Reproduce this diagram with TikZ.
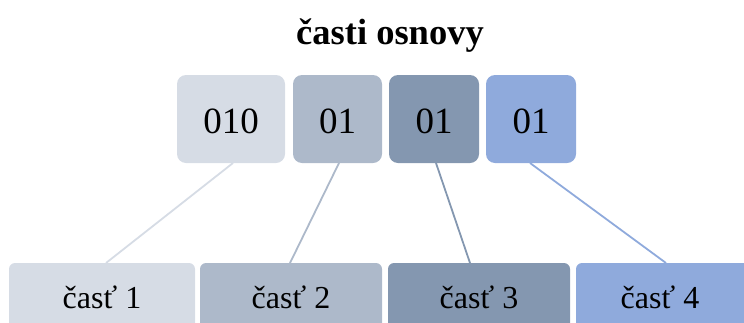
\documentclass[tikz,border=0pt]{standalone}
\usepackage{fontspec}
\setmainfont{Liberation Serif}
\definecolor{cA}{HTML}{D6DCE5}
\definecolor{cB}{HTML}{ADB9CA}
\definecolor{cC}{HTML}{8497B0}
\definecolor{cD}{HTML}{8FAADC}
\begin{document}
\begin{tikzpicture}[x=1pt,y=-1pt,
  toptext/.style={inner sep=0pt, font=\fontsize{37}{44}\selectfont},
  bottext/.style={inner sep=0pt, font=\fontsize{32}{38}\selectfont},
  link/.style={line width=1.8pt}]
\useasboundingbox (0,0) rectangle (744,322);
\clip (0,0) rectangle (744,322);
\node[font=\bfseries\fontsize{36.5}{44}\selectfont] (title) at (390,36) {časti osnovy};
% top boxes
\fill[cA, rounded corners=9pt] (177,75) rectangle (285,163);
\node[toptext] (t1) at (231,121) {010};
\fill[cB, rounded corners=9pt] (293,75) rectangle (382,163);
\node[toptext] (t2) at (337.5,121) {01};
\fill[cC, rounded corners=9pt] (389,75) rectangle (479,163);
\node[toptext] (t3) at (434,121) {01};
\fill[cD, rounded corners=9pt] (486,75) rectangle (576,163);
\node[toptext] (t4) at (531,121) {01};
\coordinate (t1b) at (233,163);
\coordinate (t2b) at (339,163);
\coordinate (t3b) at (436,163);
\coordinate (t4b) at (530,163);
% bottom boxes
\fill[cA, rounded corners=6pt] (9,263) rectangle (195,340);
\node[bottext] (b1) at (102,297) {časť 1};
\fill[cB, rounded corners=6pt] (200,263) rectangle (382,340);
\node[bottext] (b2) at (291,297) {časť 2};
\fill[cC, rounded corners=6pt] (388,263) rectangle (570,340);
\node[bottext] (b3) at (479,297) {časť 3};
\fill[cD, rounded corners=6pt] (576,263) rectangle (760,340);
\node[bottext] (b4) at (660,297) {časť 4};
\coordinate (b1t) at (106,263);
\coordinate (b2t) at (290,263);
\coordinate (b3t) at (470,263);
\coordinate (b4t) at (666,263);
% links
\draw[link, cA] (t1b) -- (b1t);
\draw[link, cB] (t2b) -- (b2t);
\draw[link, cC] (t3b) -- (b3t);
\draw[link, cD] (t4b) -- (b4t);
\end{tikzpicture}
\end{document}
